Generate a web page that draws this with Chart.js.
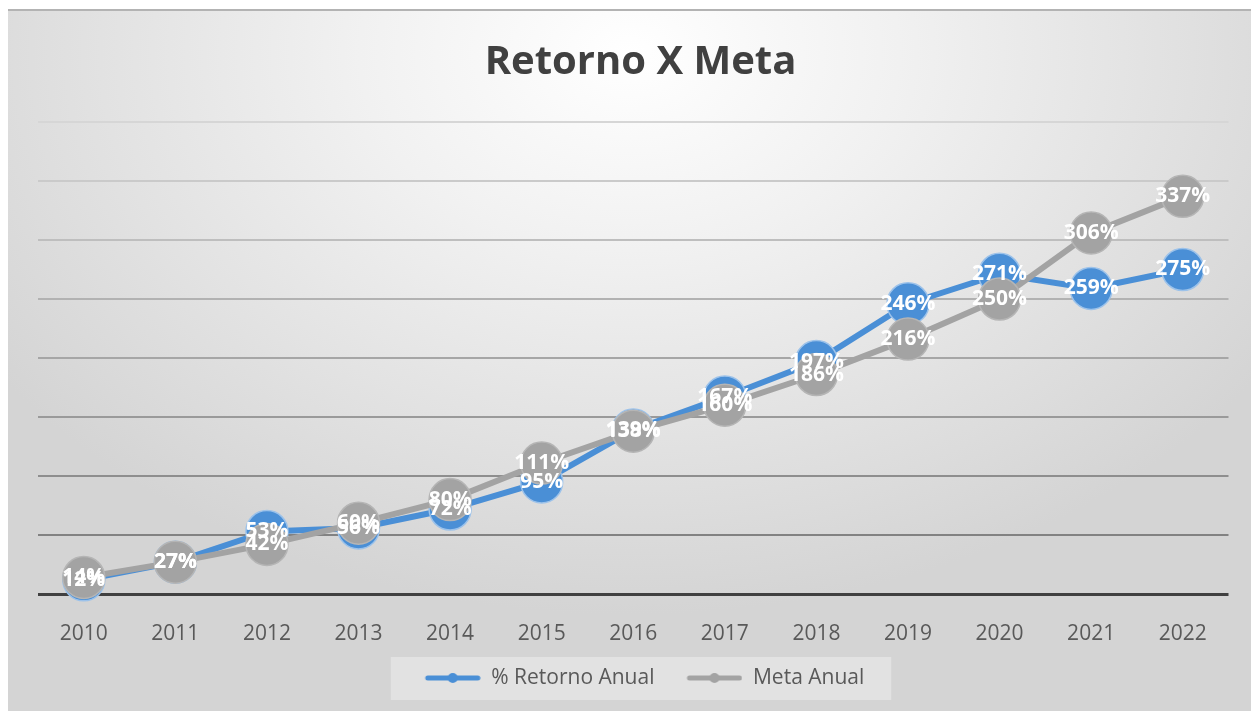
<!DOCTYPE html>
<html>
<head>
<meta charset="utf-8">
<script src="https://cdn.jsdelivr.net/npm/chart.js@4.4.1/dist/chart.umd.min.js"></script>
<style>
  html, body { margin: 0; padding: 0; background: #fff; }
  #box {
    position: absolute; left: 8px; top: 9px; width: 1243px; height: 702px;
    border-top: 2px solid #b3b3b3;
    background: radial-gradient(ellipse 62% 80% at 50% 6%, #ffffff 0%, #f1f1f1 35%, #d4d4d4 100%);
  }
  #chart { display: block; }
</style>
</head>
<body>
<div id="box"><canvas id="chart" width="1243" height="700"></canvas></div>
<script>
// dados
const anos = ['2010', '2011', '2012', '2013', '2014', '2015', '2016', '2017', '2018', '2019', '2020', '2021', '2022']
const retornoAnual = [12, 27, 53, 56, 72, 95, 139, 167, 197, 246, 271, 259, 275]
const metaAnual = [14, 27, 42, 60, 80, 111, 138, 160, 186, 216, 250, 306, 337]

const azul = '#4a8fd6'
const cinza = '#a3a3a3'

// marcador da legenda: linha com bolinha
function legendMarker(color) {
  const c = document.createElement('canvas')
  c.width = 78
  c.height = 14
  const g = c.getContext('2d')
  g.strokeStyle = color
  g.lineWidth = 5
  g.lineCap = 'round'
  g.beginPath()
  g.moveTo(25, 7)
  g.lineTo(75, 7)
  g.stroke()
  g.fillStyle = color
  g.beginPath()
  g.arc(50, 7, 5, 0, Math.PI * 2)
  g.fill()
  return c
}

// rótulos centralizados nos pontos
const rotulos = {
  id: 'rotulos',
  afterDatasetsDraw(chart) {
    const ctx = chart.ctx
    ctx.save()
    ctx.font = 'bold 21px "Open Sans"'
    ctx.fillStyle = '#ffffff'
    ctx.textAlign = 'center'
    ctx.textBaseline = 'middle'
    chart.data.datasets.forEach((ds, i) => {
      const meta = chart.getDatasetMeta(i)
      meta.data.forEach((pt, j) => {
        ctx.fillText(ds.data[j] + '%', pt.x, pt.y)
      })
    })
    ctx.restore()
  }
}

// legenda um pouco para a esquerda + fundo claro
const fundoLegenda = {
  id: 'fundoLegenda',
  afterLayout(chart) {
    if (chart.legend) {
      chart.legend.left -= 7
      chart.legend.right -= 7
    }
  },
  beforeDraw(chart) {
    const boxes = chart.legend && chart.legend.legendHitBoxes
    if (!boxes || !boxes.length) return
    const first = boxes[0]
    const last = boxes[boxes.length - 1]
    const ctx = chart.ctx
    const x0 = first.left + 22 - 34
    const x1 = last.left + last.width + 27
    ctx.save()
    ctx.fillStyle = 'rgba(255,255,255,0.32)'
    ctx.fillRect(x0, 646, x1 - x0, 43)
    ctx.restore()
  }
}

function gridColor(v) {
  if (v === 0) return '#404040'
  const l = Math.round(118 + v * 0.24)
  return 'rgb(' + l + ',' + l + ',' + l + ')'
}

new Chart(document.getElementById('chart'), {
  type: 'line',
  data: {
    labels: anos,
    datasets: [
      {
        label: '% Retorno Anual',
        data: retornoAnual,
        borderColor: azul,
        backgroundColor: azul,
        borderWidth: 6,
        pointStyle: 'circle',
        pointRadius: 21,
        pointBackgroundColor: azul,
        pointBorderColor: '#9cc2ea',
        pointBorderWidth: 1.5,
        order: 1,
        clip: false
      },
      {
        label: 'Meta Anual',
        data: metaAnual,
        borderColor: cinza,
        backgroundColor: cinza,
        borderWidth: 6,
        pointStyle: 'circle',
        pointRadius: 21,
        pointBackgroundColor: cinza,
        pointBorderColor: '#b5b5b5',
        pointBorderWidth: 1.5,
        order: 0,
        clip: false
      }
    ]
  },
  options: {
    responsive: false,
    animation: false,
    events: [],
    layout: {
      padding: { left: 30, right: 8, top: 0, bottom: 12.5 }
    },
    plugins: {
      title: {
        display: true,
        text: 'Retorno X Meta',
        color: '#404040',
        font: { family: 'Open Sans', size: 40, weight: 'bold' },
        padding: { top: 28, bottom: 35 }
      },
      legend: {
        display: true,
        position: 'bottom',
        labels: {
          usePointStyle: true,
          pointStyleWidth: 78,
          boxHeight: 14,
          padding: 10,
          color: '#595959',
          font: { family: 'Open Sans', size: 21 },
          generateLabels(chart) {
            return chart.data.datasets.map((ds, i) => ({
              text: ds.label,
              pointStyle: legendMarker(ds.borderColor),
              fillStyle: ds.borderColor,
              strokeStyle: ds.borderColor,
              lineWidth: 0,
              fontColor: '#595959',
              hidden: false,
              datasetIndex: i
            }))
          }
        }
      },
      tooltip: { enabled: false }
    },
    scales: {
      x: {
        offset: true,
        grid: { display: false },
        border: { display: false },
        ticks: {
          color: '#595959',
          padding: 19,
          font: { family: 'Open Sans', size: 21 }
        },
        afterFit(scale) {
          scale.height = 63.5
        }
      },
      y: {
        min: 0,
        max: 400,
        border: { display: false },
        grid: {
          drawTicks: false,
          color: (c) => gridColor(c.tick.value),
          lineWidth: (c) => (c.tick.value === 0 ? 3 : 2)
        },
        ticks: {
          display: false,
          stepSize: 50
        },
        afterFit(scale) {
          scale.width = 0
        }
      }
    }
  },
  plugins: [fundoLegenda, rotulos]
})
</script>
</body>
</html>
